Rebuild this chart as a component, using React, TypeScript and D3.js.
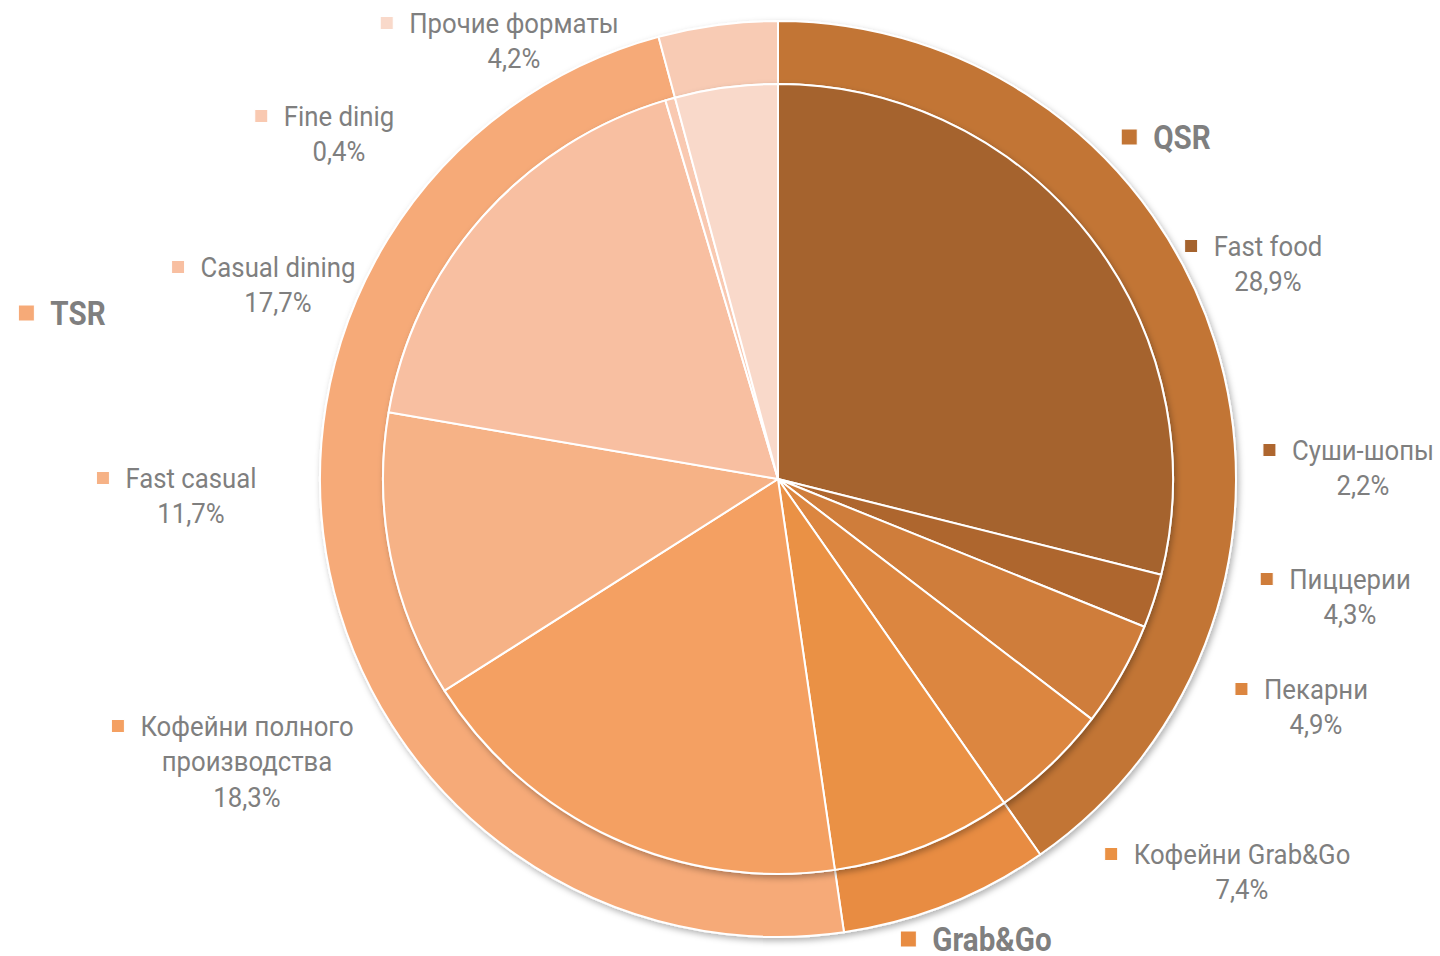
import { useEffect, useRef } from 'react'
import * as d3 from 'd3'

// inner ring: formats
const formats = [
  'Fast food',
  'Суши-шопы',
  'Пиццерии',
  'Пекарни',
  'Кофейни Grab&Go',
  'Кофейни полного производства',
  'Fast casual',
  'Casual dining',
  'Fine dinig',
  'Прочие форматы',
]
const formatShares = [28.9, 2.2, 4.3, 4.9, 7.4, 18.3, 11.7, 17.7, 0.4, 4.2]
const formatGroup = ['QSR', 'QSR', 'QSR', 'QSR', 'Grab&Go', 'TSR', 'TSR', 'TSR', 'TSR', 'Прочие форматы']

// outer ring: segments
const segments = ['QSR', 'Grab&Go', 'TSR', 'Прочие форматы']

const formatColors = [
  '#a5632e', '#ae662f', '#cf7d3b', '#dc8640', '#ea9144',
  '#f4a062', '#f6b286', '#f8bfa1', '#f9c9b1', '#f9d9ca',
]
const segmentColors = ['#c27535', '#e88c42', '#f6aa78', '#f8cbb4']

// label placement (text centre x, first line centre y), like Excel best fit
const formatLabelPos: Record<string, [number, number]> = {
  'Fast food': [1268, 246],
  'Суши-шопы': [1363, 450],
  'Пиццерии': [1350, 579],
  'Пекарни': [1316, 689],
  'Кофейни Grab&Go': [1242, 854],
  'Кофейни полного производства': [247, 726],
  'Fast casual': [191, 478],
  'Casual dining': [278, 267],
  'Fine dinig': [339, 116],
  'Прочие форматы': [514, 23],
}
const segmentLabelPos: Record<string, [number, number] | null> = {
  QSR: [1182, 137],
  'Grab&Go': [992, 939],
  TSR: [78, 313],
  'Прочие форматы': null,
}
const formatLines: Record<string, string[]> = {
  'Кофейни полного производства': ['Кофейни полного', 'производства'],
}

const width = 1440
const height = 956
const cx = 778
const cy = 479
const innerR = 395
const outerR = 458
const fmt = (v: number) => d3.format('.1f')(v).replace('.', ',') + '%'

export default function App() {
  const ref = useRef<SVGSVGElement>(null)

  useEffect(() => {
    const svg = d3.select(ref.current)
    svg.selectAll('*').remove()

    const defs = svg.append('defs')
    const f = defs
      .append('filter')
      .attr('id', 'shadow')
      .attr('x', '-10%')
      .attr('y', '-10%')
      .attr('width', '120%')
      .attr('height', '120%')
    f.append('feDropShadow')
      .attr('dx', 2)
      .attr('dy', 3)
      .attr('stdDeviation', 3)
      .attr('flood-color', '#000')
      .attr('flood-opacity', 0.3)

    const inner = formats.map((name, i) => ({
      name,
      value: formatShares[i],
      group: formatGroup[i],
      color: formatColors[i],
    }))
    const totals = d3.rollup(
      inner,
      (v) => d3.sum(v, (d) => d.value),
      (d) => d.group
    )
    const outer = segments.map((name, i) => ({
      name,
      value: totals.get(name) ?? 0,
      color: segmentColors[i],
    }))

    const pie = d3
      .pie<{ value: number }>()
      .sort(null)
      .value((d) => d.value)

    const outerArc = d3.arc<d3.PieArcDatum<any>>().innerRadius(innerR).outerRadius(outerR)
    const innerArc = d3.arc<d3.PieArcDatum<any>>().innerRadius(0).outerRadius(innerR)

    const g = svg.append('g').attr('transform', `translate(${cx},${cy})`)

    g.append('g')
      .attr('filter', 'url(#shadow)')
      .selectAll('path')
      .data(pie(outer))
      .join('path')
      .attr('d', outerArc as any)
      .attr('fill', (d: any) => d.data.color)
      .attr('stroke', '#fff')
      .attr('stroke-width', 2)
      .attr('stroke-linejoin', 'round')

    g.append('g')
      .attr('filter', 'url(#shadow)')
      .selectAll('path')
      .data(pie(inner))
      .join('path')
      .attr('d', innerArc as any)
      .attr('fill', (d: any) => d.data.color)
      .attr('stroke', '#fff')
      .attr('stroke-width', 2)
      .attr('stroke-linejoin', 'round')

    const labels = svg.append('g').attr('font-family', 'Roboto, sans-serif').attr('fill', '#7f7f7f')

    const drawLabel = (
      pos: [number, number],
      lines: string[],
      color: string,
      bold: boolean
    ) => {
      const size = bold ? 34 : 28
      const squeeze = bold ? 0.87 : 0.92
      const lh = 35.5
      const lg = labels.append('g')
      const tg = lg.append('g').attr('transform', `translate(${pos[0]},${pos[1]}) scale(${squeeze},1)`)
      let firstW = 0
      lines.forEach((line, i) => {
        const t = tg
          .append('text')
          .attr('x', 0)
          .attr('y', i * lh + size * 0.355)
          .attr('text-anchor', 'middle')
          .attr('font-size', size)
          .attr('font-weight', bold ? 700 : 400)
          .text(line)
        if (i === 0) firstW = (t.node() as SVGTextElement).getComputedTextLength() * squeeze
      })
      const m = bold ? 16 : 13
      lg.append('rect')
        .attr('x', pos[0] - firstW / 2 - 16 - m)
        .attr('y', pos[1] - m / 2)
        .attr('width', m)
        .attr('height', m)
        .attr('fill', color)
        .attr('stroke', '#fff')
        .attr('stroke-width', 1)
    }

    inner.forEach((d) => {
      const lines = [...(formatLines[d.name] ?? [d.name]), fmt(d.value)]
      drawLabel(formatLabelPos[d.name], lines, d.color, false)
    })
    outer.forEach((d) => {
      const pos = segmentLabelPos[d.name]
      if (pos) drawLabel(pos, [d.name], d.color, true)
    })
  }, [])

  return (
    <svg
      ref={ref}
      width={width}
      height={height}
      style={{ position: 'absolute', left: 0, top: 0, background: '#fff' }}
    />
  )
}
